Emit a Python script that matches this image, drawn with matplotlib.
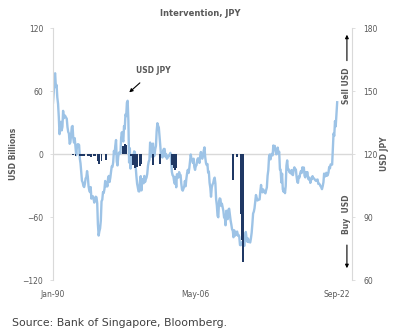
import matplotlib
matplotlib.use("Agg")
import matplotlib.pyplot as plt
import pandas as pd

# USD JPY month-end levels, Jan-1990 .. Sep-2022 (one row per year)
USDJPY = [
    144.5, 149.6, 157.5, 158.5, 151.9, 152.9, 147.0, 144.0, 137.8, 129.5, 132.7, 135.4,
    131.3, 133.0, 140.6, 137.1, 138.5, 138.1, 137.4, 136.9, 132.9, 130.6, 129.8, 124.9,
    125.6, 129.2, 133.0, 133.4, 127.6, 125.5, 127.6, 123.6, 119.5, 123.3, 124.7, 124.7,
    124.3, 117.8, 115.6, 111.2, 107.3, 106.5, 104.8, 104.3, 105.9, 108.4, 109.0, 111.9,
    109.3, 104.8, 102.9, 101.9, 104.3, 98.8, 100.0, 99.9, 98.6, 96.9, 98.8, 99.7,
    99.4, 96.5, 86.6, 81.2, 83.2, 84.6, 88.2, 97.5, 98.3, 101.9, 101.5, 103.3,
    107.2, 104.6, 106.6, 104.6, 108.4, 109.6, 106.7, 108.6, 111.5, 114.1, 113.9, 116.0,
    121.5, 120.2, 124.0, 126.7, 116.5, 114.6, 118.7, 120.7, 120.9, 120.3, 127.8, 130.4,
    127.1, 126.0, 133.3, 132.0, 138.9, 138.1, 144.5, 145.4, 135.8, 116.0, 122.8, 113.1,
    116.3, 119.5, 119.1, 119.5, 121.3, 120.9, 114.5, 109.8, 106.0, 104.3, 102.3, 102.2,
    107.2, 109.5, 102.7, 108.1, 107.7, 106.1, 109.6, 106.7, 108.0, 108.8, 110.6, 114.4,
    116.4, 117.3, 125.5, 123.5, 118.8, 124.7, 125.0, 118.9, 119.3, 122.3, 123.9, 131.0,
    134.7, 133.4, 132.7, 128.5, 124.2, 119.5, 119.8, 118.4, 121.8, 122.5, 122.4, 118.8,
    119.9, 117.8, 118.1, 119.0, 119.3, 119.8, 120.6, 116.9, 111.5, 109.9, 109.6, 107.2,
    105.9, 109.1, 104.2, 110.4, 109.5, 108.8, 111.4, 109.9, 110.0, 105.8, 103.1, 102.6,
    103.6, 104.6, 107.2, 104.7, 108.3, 110.9, 112.5, 111.0, 113.3, 116.4, 119.8, 117.8,
    117.2, 115.8, 117.8, 113.8, 112.5, 114.4, 114.7, 117.3, 118.0, 116.9, 115.8, 119.0,
    121.0, 118.6, 117.8, 119.4, 121.7, 123.2, 118.6, 115.8, 114.8, 115.3, 111.2, 111.7,
    106.3, 103.9, 99.7, 104.1, 105.5, 106.2, 107.9, 108.8, 106.0, 98.5, 95.5, 90.6,
    89.9, 97.6, 98.9, 98.6, 95.3, 96.4, 94.7, 93.0, 89.8, 90.3, 86.1, 93.0,
    90.3, 89.0, 93.5, 94.0, 91.3, 88.4, 86.5, 84.2, 83.5, 80.4, 83.7, 81.1,
    82.0, 81.8, 83.1, 81.2, 81.5, 80.5, 76.7, 76.6, 77.1, 78.2, 77.6, 76.9,
    76.3, 81.2, 82.9, 80.0, 78.3, 79.8, 78.1, 78.4, 77.9, 79.8, 82.5, 86.7,
    91.7, 92.6, 94.2, 97.5, 100.5, 99.1, 97.9, 98.2, 98.3, 98.4, 102.4, 105.3,
    102.0, 101.8, 103.2, 102.2, 101.8, 101.3, 102.8, 104.1, 109.7, 112.3, 118.6, 119.8,
    117.5, 119.6, 120.1, 119.4, 124.1, 122.5, 123.9, 121.2, 119.9, 120.6, 123.1, 120.2,
    121.1, 112.7, 112.6, 106.5, 110.7, 103.2, 102.1, 103.4, 101.4, 104.8, 114.5, 117.0,
    112.8, 112.8, 111.4, 111.5, 110.8, 112.4, 110.3, 110.0, 112.5, 113.7, 112.5, 112.7,
    109.2, 106.7, 106.3, 109.3, 108.8, 110.8, 111.9, 111.0, 113.7, 112.9, 113.6, 109.7,
    108.9, 111.4, 110.9, 111.4, 108.3, 107.9, 108.8, 106.3, 108.1, 108.0, 109.5, 108.6,
    108.4, 107.9, 107.5, 107.2, 107.8, 107.9, 105.8, 105.9, 105.5, 104.7, 104.3, 103.3,
    104.7, 106.6, 110.7, 109.3, 109.6, 111.1, 109.7, 110.0, 111.3, 113.9, 113.2, 115.1,
    115.1, 115.0, 121.7, 129.8, 128.7, 135.7, 133.2, 138.9, 144.7,
]

# Intervention (USD billions, + sell USD / - buy USD)
INTERVENTION_MONTHS = [
    "1992-04", "1992-08", "1993-02", "1993-04", "1993-06", "1993-08",
    "1994-01", "1994-03", "1994-06", "1994-09", "1994-11",
    "1995-03", "1995-04", "1995-05", "1995-08", "1996-02",
    "1998-01", "1998-04", "1998-06",
    "1999-01", "1999-04", "1999-06", "1999-09", "2000-01", "2000-03",
    "2001-07", "2002-05",
    "2003-09", "2003-10", "2003-11", "2003-12", "2004-01", "2004-02", "2004-03",
    "2010-09", "2011-03", "2011-08", "2011-10", "2011-11",
]
INTERVENTION_USD_BN = [
    -1, -1.5, -2, -2, -1.5, -2,
    -2, -2, -2.5, -2, -2,
    -7, -9, -8, -7, -6,
    8, 10, 9,
    -2, -10, -13, -12, -11, -9,
    -10, -9,
    -10, -8, -6, -13, -15, -12, -13,
    -25, -3, -57, -82, -103,
]

X_TICKS = ["1990-01", "2006-05", "2022-09"]
X_TICK_LABELS = ["Jan-90", "May-06", "Sep-22"]
LEFT_TICKS = [-120, -60, 0, 60, 120]
RIGHT_TICKS = [60, 90, 120, 150, 180]

GREY = "#595959"
LINE_BLUE = "#9DC3E6"
NAVY = "#1F3864"
AXIS_GREY = "#D9D9D9"

plt.rcParams["font.family"] = ["DejaVu Sans"]

fig = plt.figure(figsize=(4.0, 3.35), dpi=100)
ax = fig.add_axes([0.1325, 0.164, 0.7475, 0.752])
ax2 = ax.twinx()

# bars sit on top of the line
ax.set_zorder(2)
ax.patch.set_visible(False)

dates = pd.date_range("1990-01-01", periods=len(USDJPY), freq="MS")
ax2.axhline(120, color=AXIS_GREY, lw=1.0, zorder=0)
ax2.plot(dates, USDJPY, color=LINE_BLUE, lw=1.7, zorder=2)

bar_dates = pd.to_datetime(INTERVENTION_MONTHS)
ax.bar(bar_dates, INTERVENTION_USD_BN, width=80, color=NAVY, zorder=3)

x_min = pd.Timestamp("1990-01-01")
x_max = pd.Timestamp("2024-05-15")
ax.set_xlim(x_min, x_max)
ax2.set_xlim(x_min, x_max)
ax.set_ylim(-120, 120)
ax2.set_ylim(60, 180)

ax.set_yticks(LEFT_TICKS)
ax2.set_yticks(RIGHT_TICKS)
ax.set_xticks(pd.to_datetime(X_TICKS))
ax.set_xticklabels(X_TICK_LABELS)

for a in (ax, ax2):
    for side in ("top", "bottom"):
        a.spines[side].set_visible(False)
    a.tick_params(labelsize=5.5, colors=GREY, length=2, width=0.6)
ax.spines["right"].set_visible(False)
ax2.spines["left"].set_visible(False)
ax.spines["left"].set_color(AXIS_GREY)
ax2.spines["right"].set_color(AXIS_GREY)
ax.tick_params(axis="x", length=0, pad=7)
ax.tick_params(axis="y", color=AXIS_GREY, pad=5)
ax2.tick_params(axis="y", color=AXIS_GREY, pad=6)

ax.set_ylabel("USD Billions", fontsize=5.5, color=GREY, fontweight="bold", labelpad=3)
ax2.set_ylabel("USD JPY", fontsize=5.5, color=GREY, fontweight="bold",
               rotation=90, labelpad=2)

fig.text(0.5, 0.961, "Intervention, JPY", ha="center", va="center",
         fontsize=6, color=GREY, fontweight="bold")

# Sell / Buy markers on the right edge
ax.text(0.983, 0.77, "Sell USD", transform=ax.transAxes, rotation=90,
        ha="center", va="center", fontsize=5.5, color=GREY, fontweight="bold")
ax.annotate("", xy=(0.983, 0.985), xytext=(0.983, 0.86), xycoords="axes fraction",
            arrowprops=dict(arrowstyle="-|>", color="black", lw=0.8, mutation_scale=5))
ax.text(0.983, 0.262, "Buy  USD", transform=ax.transAxes, rotation=90,
        ha="center", va="center", fontsize=5.5, color=GREY, fontweight="bold")
ax.annotate("", xy=(0.983, 0.036), xytext=(0.983, 0.15), xycoords="axes fraction",
            arrowprops=dict(arrowstyle="-|>", color="black", lw=0.8, mutation_scale=5))

# USD JPY label pointing at the 1998 peak
ax.annotate("USD JPY", xy=(0.255, 0.745), xytext=(0.335, 0.83), xycoords="axes fraction",
            ha="center", va="center", fontsize=5.5, color=GREY, fontweight="bold",
            arrowprops=dict(arrowstyle="-|>", color="black", lw=0.8, mutation_scale=5,
                            shrinkA=5, shrinkB=0))

fig.text(0.03, 0.036, "Source: Bank of Singapore, Bloomberg.", ha="left", va="center",
         fontsize=7.8, color="#404040")

fig.savefig("out.png", dpi=100)
